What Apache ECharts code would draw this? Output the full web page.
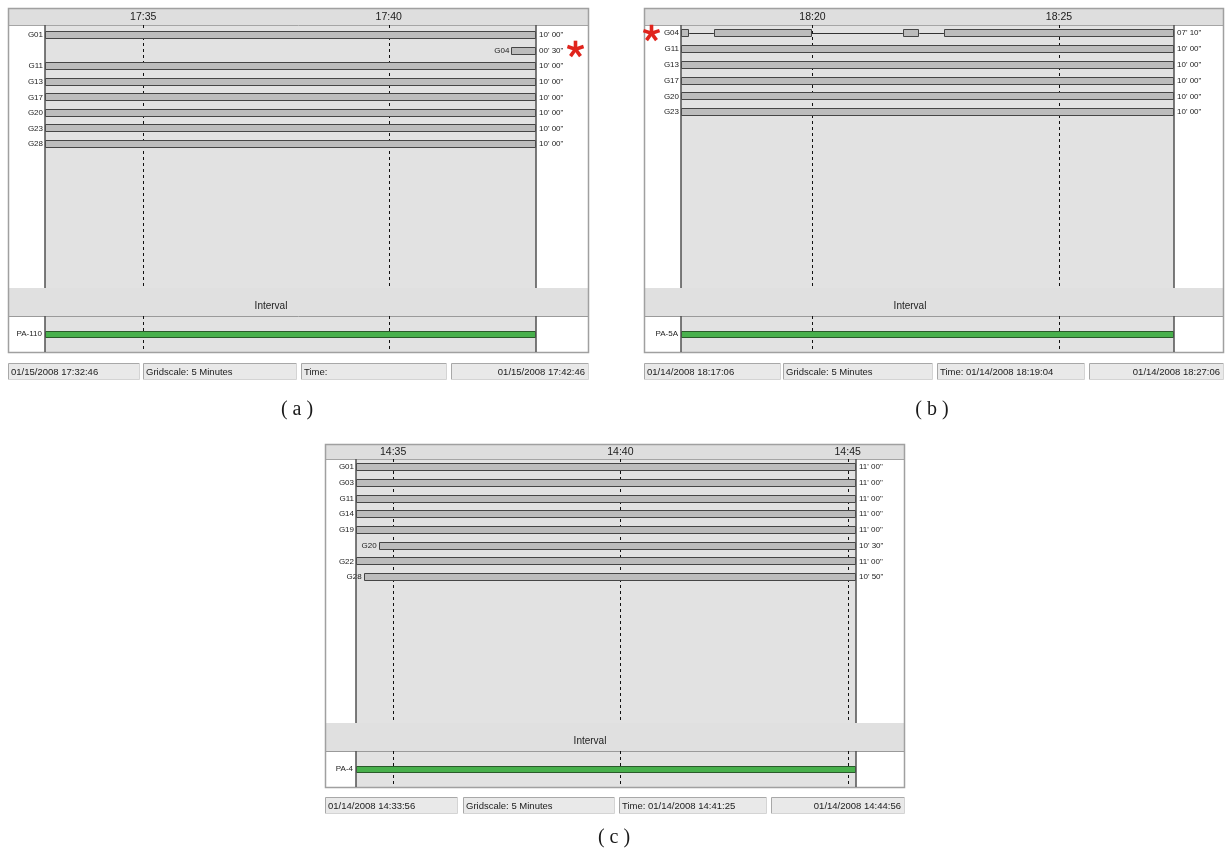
<!DOCTYPE html>
<html><head><meta charset="utf-8">
<script src="https://cdn.jsdelivr.net/npm/echarts@6/dist/echarts.min.js"></script>
<style>html,body{margin:0;padding:0;background:#fff}#chart{width:1226px;height:850px}</style>
</head><body><div id="chart"></div>
<script>
// ================= DATA =================
// Panel (a)
const aWindow = ['17:33:00', '17:43:00'];
const aTickLabels = ['17:35', '17:40'];
const aSatellites = ['G01', 'G04', 'G11', 'G13', 'G17', 'G20', 'G23', 'G28'];
const aPasses = [
  [['17:33:00', '17:43:00']],
  [['17:42:30', '17:43:00']],
  [['17:33:00', '17:43:00']],
  [['17:33:00', '17:43:00']],
  [['17:33:00', '17:43:00']],
  [['17:33:00', '17:43:00']],
  [['17:33:00', '17:43:00']],
  [['17:33:00', '17:43:00']]
];
const aDurations = ["10' 00\"", "00' 30\"", "10' 00\"", "10' 00\"", "10' 00\"", "10' 00\"", "10' 00\"", "10' 00\""];
const aInterval = ['PA-110', '17:33:00', '17:43:00'];
const aStatus = ['01/15/2008 17:32:46', 'Gridscale: 5 Minutes', 'Time:', '01/15/2008 17:42:46'];
const aFlagged = ['G04'];

// Panel (b)
const bWindow = ['18:17:20', '18:27:20'];
const bTickLabels = ['18:20', '18:25'];
const bSatellites = ['G04', 'G11', 'G13', 'G17', 'G20', 'G23'];
const bPasses = [
  [['18:17:20', '18:17:30'], ['18:18:00', '18:20:00'], ['18:21:50', '18:22:10'], ['18:22:40', '18:27:20']],
  [['18:17:20', '18:27:20']],
  [['18:17:20', '18:27:20']],
  [['18:17:20', '18:27:20']],
  [['18:17:20', '18:27:20']],
  [['18:17:20', '18:27:20']]
];
const bDurations = ["07' 10\"", "10' 00\"", "10' 00\"", "10' 00\"", "10' 00\"", "10' 00\""];
const bInterval = ['PA-5A', '18:17:20', '18:27:20'];
const bStatus = ['01/14/2008 18:17:06', 'Gridscale: 5 Minutes', 'Time: 01/14/2008 18:19:04', '01/14/2008 18:27:06'];
const bFlagged = ['G04'];

// Panel (c)
const cWindow = ['14:34:11', '14:45:11'];
const cTickLabels = ['14:35', '14:40', '14:45'];
const cSatellites = ['G01', 'G03', 'G11', 'G14', 'G19', 'G20', 'G22', 'G28'];
const cPasses = [
  [['14:34:11', '14:45:11']],
  [['14:34:11', '14:45:11']],
  [['14:34:11', '14:45:11']],
  [['14:34:11', '14:45:11']],
  [['14:34:11', '14:45:11']],
  [['14:34:41', '14:45:11']],
  [['14:34:11', '14:45:11']],
  [['14:34:21', '14:45:11']]
];
const cDurations = ["11' 00\"", "11' 00\"", "11' 00\"", "11' 00\"", "11' 00\"", "10' 30\"", "11' 00\"", "10' 50\""];
const cInterval = ['PA-4', '14:34:11', '14:45:11'];
const cStatus = ['01/14/2008 14:33:56', 'Gridscale: 5 Minutes', 'Time: 01/14/2008 14:41:25', '01/14/2008 14:44:56'];
const cFlagged = [];

const captions = ['( a )', '( b )', '( c )'];

// ================= LAYOUT (pixels) =================
const layouts = [
  {x0: 8, x1: 589, y0: 8, headerB: 25, plotL: 45, plotR: 536, mainB: 288, lowT: 316, lowB: 352, stT: 363, stB: 379,
   intervalX: 271, capX: 297, capY: 410, rowMin: -0.62, rowStep: 15.55, starSide: 'right',
   boxes: [[8, 140], [143, 297], [301, 447], [451, 589]]},
  {x0: 644, x1: 1224, y0: 8, headerB: 25, plotL: 681, plotR: 1174, mainB: 288, lowT: 316, lowB: 352, stT: 363, stB: 379,
   intervalX: 910, capX: 932, capY: 410, rowMin: -0.49, rowStep: 15.8, starSide: 'left',
   boxes: [[644, 781], [783, 933], [937, 1085], [1089, 1224]]},
  {x0: 325, x1: 905, y0: 444, headerB: 459, plotL: 356, plotR: 856, mainB: 723, lowT: 751, lowB: 787, stT: 797, stB: 813,
   intervalX: 590, capX: 614, capY: 838, rowMin: -0.49, rowStep: 15.7, starSide: 'right',
   boxes: [[325, 458], [463, 615], [619, 767], [771, 905]]}
];

const panels = [
  {win: aWindow, ticks: aTickLabels, sats: aSatellites, passes: aPasses, durs: aDurations, interval: aInterval, status: aStatus, flagged: aFlagged},
  {win: bWindow, ticks: bTickLabels, sats: bSatellites, passes: bPasses, durs: bDurations, interval: bInterval, status: bStatus, flagged: bFlagged},
  {win: cWindow, ticks: cTickLabels, sats: cSatellites, passes: cPasses, durs: cDurations, interval: cInterval, status: cStatus, flagged: cFlagged}
];

function toSec(s) { const p = s.split(':').map(Number); return p[0] * 3600 + p[1] * 60 + (p[2] || 0); }

const FONT = '"Liberation Sans", Arial, sans-serif';
const PLOT_BG = '#e2e2e2';
const BAR_FILL = '#bcbcbc';
const BAR_STROKE = '#454545';

function barRenderer(fill, stroke, h) {
  return function (params, api) {
    const r = api.value(0), s = api.value(1), e = api.value(2);
    const p1 = api.coord([s, r]), p2 = api.coord([e, r]);
    const x = Math.round(p1[0]) + 0.5;
    const w = Math.round(p2[0]) - Math.round(p1[0]) - 1;
    const y = Math.round(p1[1] - h / 2) + 0.5;
    return {type: 'rect', shape: {x: x, y: y, width: w, height: h}, style: {fill: fill, stroke: stroke, lineWidth: 1}};
  };
}
function connectorRenderer(params, api) {
  const r = api.value(0);
  const p1 = api.coord([api.value(1), r]), p2 = api.coord([api.value(2), r]);
  const y = Math.round(p1[1]) + 0.5;
  return {type: 'line', shape: {x1: p1[0], y1: y, x2: p2[0], y2: y}, style: {stroke: '#333', lineWidth: 1}};
}
function gridlineRenderer(params, api) {
  const x = Math.round(api.coord([api.value(0), 0])[0]) + 0.5;
  const cs = params.coordSys;
  return {type: 'line', shape: {x1: x, y1: cs.y, x2: x, y2: cs.y + cs.height},
    style: {stroke: '#111', lineWidth: 1, lineDash: [3, 3]}};
}
// five-armed red asterisk
function starShape(cx, cy) {
  const R = 8.5, arms = [];
  for (let k = 0; k < 5; k++) {
    const a = (-90 + k * 72) * Math.PI / 180;
    arms.push({type: 'line', shape: {x1: cx, y1: cy, x2: cx + R * Math.cos(a), y2: cy + R * Math.sin(a)},
      style: {stroke: '#e0241c', lineWidth: 3.6, lineCap: 'butt'}});
  }
  return {type: 'group', children: arms};
}

const grids = [], xAxes = [], yAxes = [], series = [], graphics = [];

panels.forEach(function (P, pi) {
  const L = layouts[pi];
  const xmin = toSec(P.win[0]), xmax = toSec(P.win[1]);
  const tickSecs = P.ticks.map(function (t) { return toSec(t); });

  // ---- main grid ----
  const gMain = grids.length;
  grids.push({left: L.plotL, top: L.headerB, width: L.plotR - L.plotL, height: L.mainB - L.headerB,
    show: true, backgroundColor: PLOT_BG, borderWidth: 0});
  xAxes.push({type: 'value', gridIndex: gMain, min: xmin, max: xmax, show: false});
  yAxes.push({type: 'value', gridIndex: gMain, inverse: true, min: L.rowMin,
    max: L.rowMin + (L.mainB - L.headerB) / L.rowStep, show: false});

  // ---- lower "Interval" grid ----
  const gLow = grids.length;
  grids.push({left: L.plotL, top: L.lowT, width: L.plotR - L.plotL, height: L.lowB - L.lowT,
    show: true, backgroundColor: PLOT_BG, borderWidth: 0});
  xAxes.push({type: 'value', gridIndex: gLow, min: xmin, max: xmax, show: false});
  yAxes.push({type: 'value', gridIndex: gLow, min: -1, max: 1, show: false});

  const segData = [], gapData = [], labelData = [];
  P.passes.forEach(function (segs, r) {
    segs.forEach(function (sg, k) {
      segData.push([r, toSec(sg[0]), toSec(sg[1])]);
      if (k > 0) gapData.push([r, toSec(segs[k - 1][1]), toSec(sg[0])]);
    });
    labelData.push([r, toSec(segs[0][0]), toSec(segs[segs.length - 1][1])]);
  });

  [gMain, gLow].forEach(function (gi) {
    series.push({type: 'custom', xAxisIndex: gi, yAxisIndex: gi, silent: true, z: 1,
      data: tickSecs.map(function (t) { return [t, 0]; }), encode: {x: 0, y: 1},
      renderItem: gridlineRenderer});
  });
  series.push({type: 'custom', xAxisIndex: gMain, yAxisIndex: gMain, silent: true, clip: false,
    data: tickSecs.map(function (t) { return [t, 0]; }), encode: {x: 0, y: 1},
    renderItem: function (params, api) {
      const x = api.coord([api.value(0), 0])[0];
      const cs = params.coordSys;
      return {type: 'text', x: x, y: (L.y0 + cs.y) / 2 + 1,
        style: {text: P.ticks[params.dataIndex], fill: '#1a1a1a', fontSize: 10.5, fontFamily: FONT,
          align: 'center', verticalAlign: 'middle'}};
    }});
  if (gapData.length) {
    series.push({type: 'custom', xAxisIndex: gMain, yAxisIndex: gMain, silent: true, z: 2,
      data: gapData, encode: {x: [1, 2], y: 0}, renderItem: connectorRenderer});
  }
  series.push({type: 'custom', xAxisIndex: gMain, yAxisIndex: gMain, silent: true, z: 3,
    data: segData, encode: {x: [1, 2], y: 0}, renderItem: barRenderer(BAR_FILL, BAR_STROKE, 7)});
  series.push({type: 'custom', xAxisIndex: gMain, yAxisIndex: gMain, silent: true, clip: false, z: 4,
    data: labelData, encode: {x: [1, 2], y: 0},
    renderItem: function (params, api) {
      const r = api.value(0);
      const ps = api.coord([api.value(1), r]), pe = api.coord([api.value(2), r]);
      const name = P.sats[params.dataIndex];
      const children = [
        {type: 'text', x: ps[0] - 2, y: ps[1] + 0.5, style: {text: name, fill: '#222', fontSize: 8, fontFamily: FONT, align: 'right', verticalAlign: 'middle'}},
        {type: 'text', x: pe[0] + 3, y: ps[1] + 0.5, style: {text: P.durs[params.dataIndex], fill: '#222', fontSize: 8, fontFamily: FONT, align: 'left', verticalAlign: 'middle'}}
      ];
      if (P.flagged.indexOf(name) >= 0) {
        const sx = L.starSide === 'right' ? pe[0] + 39.5 : ps[0] - 29.5;
        children.push(starShape(sx, ps[1] + (L.starSide === 'right' ? -1 : 0.5)));
      }
      return {type: 'group', children: children};
    }});

  const iv = [[0, toSec(P.interval[1]), toSec(P.interval[2])]];
  series.push({type: 'custom', xAxisIndex: gLow, yAxisIndex: gLow, silent: true, z: 3,
    data: iv, encode: {x: [1, 2], y: 0}, renderItem: barRenderer('#48b04c', '#2a5a2a', 6)});
  series.push({type: 'custom', xAxisIndex: gLow, yAxisIndex: gLow, silent: true, clip: false, z: 4,
    data: iv, encode: {x: [1, 2], y: 0},
    renderItem: function (params, api) {
      const p = api.coord([api.value(1), 0]);
      return {type: 'text', x: p[0] - 3, y: p[1], style: {text: P.interval[0], fill: '#222', fontSize: 8, fontFamily: FONT, align: 'right', verticalAlign: 'middle'}};
    }});

  // ---- frame / chrome ----
  const W = L.x1 - L.x0;
  graphics.push(
    {type: 'rect', shape: {x: L.x0, y: L.y0, width: W, height: L.headerB - L.y0}, style: {fill: '#dedede'}, z: -5},
    {type: 'rect', shape: {x: L.x0, y: L.mainB, width: W, height: L.lowT - L.mainB}, style: {fill: '#e0e0e0'}, z: -5},
    {type: 'text', x: L.intervalX, y: (L.mainB + L.lowT) / 2 + 4,
      style: {text: 'Interval', fill: '#222', fontSize: 10, fontFamily: FONT, align: 'center', verticalAlign: 'middle'}},
    {type: 'line', shape: {x1: L.x0, y1: L.headerB + 0.5, x2: L.x1, y2: L.headerB + 0.5}, style: {stroke: '#a5a5a5', lineWidth: 1}},
    {type: 'line', shape: {x1: L.x0, y1: L.lowT + 0.5, x2: L.x1, y2: L.lowT + 0.5}, style: {stroke: '#9a9a9a', lineWidth: 1}},
    {type: 'rect', shape: {x: L.x0 + 0.5, y: L.y0 + 0.5, width: W - 1, height: L.lowB - L.y0}, style: {fill: 'none', stroke: '#a0a0a0', lineWidth: 1.5}}
  );
  [L.plotL, L.plotR].forEach(function (px) {
    graphics.push(
      {type: 'line', shape: {x1: px, y1: L.headerB, x2: px, y2: L.mainB}, style: {stroke: '#505050', lineWidth: 1.5}, z: 10},
      {type: 'line', shape: {x1: px, y1: L.lowT, x2: px, y2: L.lowB}, style: {stroke: '#505050', lineWidth: 1.5}, z: 10}
    );
  });
  L.boxes.forEach(function (b, k) {
    const bx = b[0] + 0.5, bw = b[1] - b[0] - 1, by = L.stT + 0.5, bh = L.stB - L.stT;
    graphics.push(
      {type: 'rect', shape: {x: bx, y: by, width: bw, height: bh}, style: {fill: '#e9e9e9'}},
      {type: 'polyline', shape: {points: [[bx, by + bh], [bx, by], [bx + bw, by]]}, style: {stroke: '#a8a8a8', lineWidth: 1, fill: 'none'}},
      {type: 'polyline', shape: {points: [[bx + bw, by], [bx + bw, by + bh], [bx, by + bh]]}, style: {stroke: '#d4d4d4', lineWidth: 1, fill: 'none'}},
      {type: 'text', x: k === 3 ? b[1] - 4 : b[0] + 3, y: (L.stT + L.stB) / 2 + 1,
        style: {text: P.status[k], fill: '#1a1a1a', fontSize: 9.5, fontFamily: FONT, align: k === 3 ? 'right' : 'left', verticalAlign: 'middle'}}
    );
  });
  graphics.push({type: 'text', x: L.capX, y: L.capY,
    style: {text: captions[pi], fill: '#1a1a1a', fontSize: 20, fontFamily: '"Liberation Serif", "Times New Roman", serif', align: 'center', verticalAlign: 'middle'}});
});

const chart = echarts.init(document.getElementById('chart'), null, {renderer: 'canvas'});
chart.setOption({
  animation: false,
  backgroundColor: '#ffffff',
  grid: grids,
  xAxis: xAxes,
  yAxis: yAxes,
  series: series,
  graphic: {elements: graphics}
});
</script>
</body></html>
